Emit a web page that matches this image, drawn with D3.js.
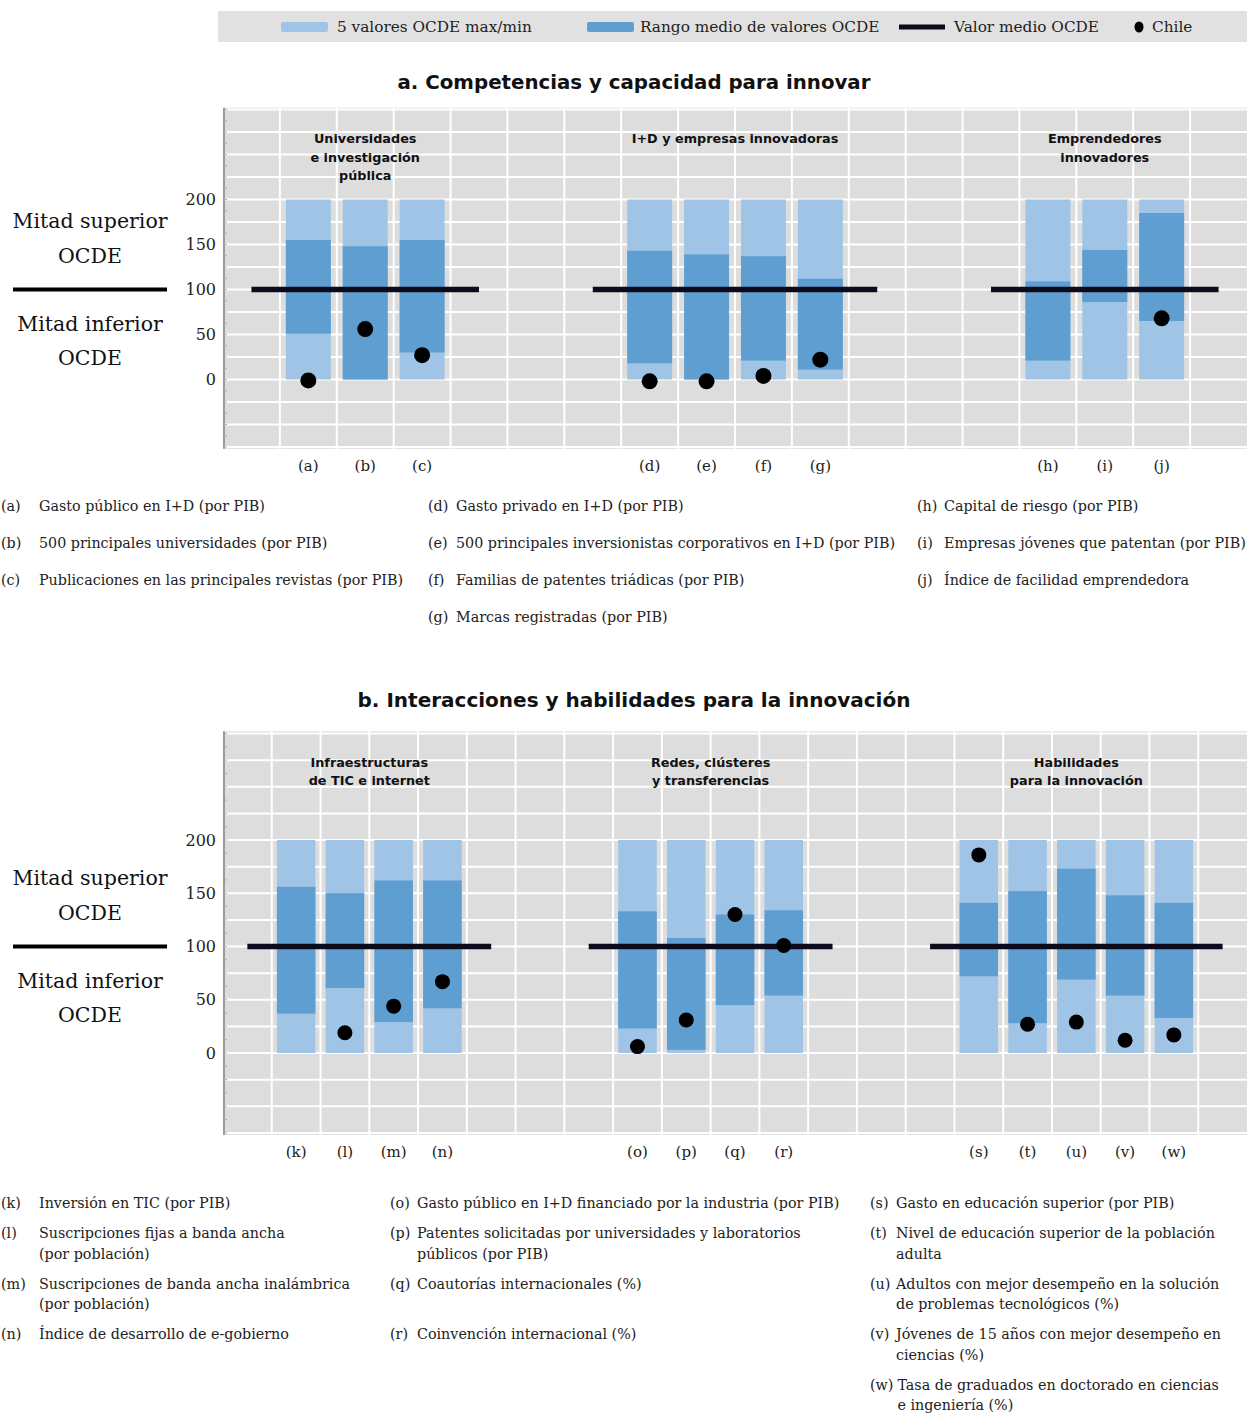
<!DOCTYPE html>
<html>
<head>
<meta charset="utf-8">
<script src="https://cdn.jsdelivr.net/npm/d3@7"></script>
<style>
  body { margin: 0; background: #fff; }
  svg { display: block; }
</style>
</head>
<body>
<svg id="chart" width="1247" height="1414"></svg>
<script>
// ---------- data ----------
const legendLabels = ["5 valores OCDE max/min", "Rango medio de valores OCDE", "Valor medio OCDE", "Chile"];
const yTickValues = [0, 50, 100, 150, 200];
const sideLabelsUpper = ["Mitad superior", "OCDE"];
const sideLabelsLower = ["Mitad inferior", "OCDE"];
const ocdeMin = 0, ocdeMax = 200, ocdeMean = 100;

// Panel a
const titleA = "a. Competencias y capacidad para innovar";
const groupTitlesA = [["Universidades", "e investigación", "pública"], ["I+D y empresas innovadoras"], ["Emprendedores", "innovadores"]];
const groupCatsA = [["a", "b", "c"], ["d", "e", "f", "g"], ["h", "i", "j"]];
const midLowA  = [51, 0, 30, 18, 0, 21, 11, 21, 86, 65];
const midHighA = [155, 148, 155, 143, 139, 137, 112, 109, 144, 185];
const chileA   = [-1, 56, 27, -2, -2, 4, 22, null, null, 68];
const notesA = [
  [["(a)", ["Gasto público en I+D (por PIB)"]],
   ["(b)", ["500 principales universidades (por PIB)"]],
   ["(c)", ["Publicaciones en las principales revistas (por PIB)"]]],
  [["(d)", ["Gasto privado en I+D (por PIB)"]],
   ["(e)", ["500 principales inversionistas corporativos en I+D (por PIB)"]],
   ["(f)", ["Familias de patentes triádicas (por PIB)"]],
   ["(g)", ["Marcas registradas (por PIB)"]]],
  [["(h)", ["Capital de riesgo (por PIB)"]],
   ["(i)", ["Empresas jóvenes que patentan (por PIB)"]],
   ["(j)", ["Índice de facilidad emprendedora"]]]
];

// Panel b
const titleB = "b. Interacciones y habilidades para la innovación";
const groupTitlesB = [["Infraestructuras", "de TIC e internet"], ["Redes, clústeres", "y transferencias"], ["Habilidades", "para la innovación"]];
const groupCatsB = [["k", "l", "m", "n"], ["o", "p", "q", "r"], ["s", "t", "u", "v", "w"]];
const midLowB  = [37, 61, 29, 42, 23, 3, 45, 54, 72, 28, 69, 54, 33];
const midHighB = [156, 150, 162, 162, 133, 108, 130, 134, 141, 152, 173, 148, 141];
const chileB   = [null, 19, 44, 67, 6, 31, 130, 101, 186, 27, 29, 12, 17];
const notesB = [
  [["(k)", ["Inversión en TIC (por PIB)"]],
   ["(l)", ["Suscripciones fijas a banda ancha", "(por población)"]],
   ["(m)", ["Suscripciones de banda ancha inalámbrica", "(por población)"]],
   ["(n)", ["Índice de desarrollo de e-gobierno"]]],
  [["(o)", ["Gasto público en I+D financiado por la industria (por PIB)"]],
   ["(p)", ["Patentes solicitadas por universidades y laboratorios", "públicos (por PIB)"]],
   ["(q)", ["Coautorías internacionales (%)"]],
   ["(r)", ["Coinvención internacional (%)"]]],
  [["(s)", ["Gasto en educación superior (por PIB)"]],
   ["(t)", ["Nivel de educación superior de la población", "adulta"]],
   ["(u)", ["Adultos con mejor desempeño en la solución", "de problemas tecnológicos (%)"]],
   ["(v)", ["Jóvenes de 15 años con mejor desempeño en", "ciencias (%)"]],
   ["(w)", ["Tasa de graduados en doctorado en ciencias", "e ingeniería (%)"]]]
];

// ---------- style ----------
const COL_LIGHT = "#9fc4e5";
const COL_DARK = "#5f9ed1";
const COL_BG = "#dddddd";
const COL_MEAN = "#0b0b1c";
const SERIF = "'DejaVu Serif', serif";
const SANS_BOLD = "'DejaVu Sans', Verdana, sans-serif";
const NOTE_SIZE = 14.3;

const svg = d3.select("#chart");

// ---------- legend ----------
const legend = svg.append("g");
legend.append("rect").attr("x", 218).attr("y", 11).attr("width", 1029).attr("height", 31).attr("fill", "#e1e1e1");
const legY = 27;
legend.append("rect").attr("x", 281).attr("y", legY - 5).attr("width", 47).attr("height", 10).attr("rx", 2).attr("fill", COL_LIGHT);
legend.append("rect").attr("x", 587).attr("y", legY - 5).attr("width", 47).attr("height", 10).attr("rx", 2).attr("fill", COL_DARK);
legend.append("line").attr("x1", 899).attr("x2", 945).attr("y1", legY).attr("y2", legY).attr("stroke", COL_MEAN).attr("stroke-width", 5);
legend.append("ellipse").attr("cx", 1139).attr("cy", legY).attr("rx", 4.5).attr("ry", 5.5).attr("fill", "#000");
[[337, 0], [640, 1], [954, 2], [1152, 3]].forEach(([x, i]) => {
  legend.append("text").attr("x", x).attr("y", legY).attr("dy", "0.35em")
    .attr("font-family", SERIF).attr("font-size", 15.3).attr("fill", "#222").text(legendLabels[i]);
});

// ---------- panel drawing ----------
function drawPanel(cfg) {
  const g = svg.append("g");
  const cats = cfg.groups.flat();
  // slot index of each category: groups separated by three empty slots
  const slot = {};
  let s = 0;
  cfg.groups.forEach((grp, gi) => {
    if (gi > 0) s += 3;
    grp.forEach(c => { slot[c] = s; s += 1; });
  });
  const x = d3.scaleLinear().domain([-1.5, cfg.slotMax]).range([223, 1247]);
  const y = d3.scaleLinear().domain([0, 200]).range([cfg.y0, cfg.y200]);
  const slotW = x(1) - x(0);
  const barW = slotW * 0.79;

  // title
  g.append("text").attr("x", 634).attr("y", cfg.titleY).attr("text-anchor", "middle")
    .attr("font-family", SANS_BOLD).attr("font-weight", "bold").attr("font-size", cfg.titleSize)
    .attr("fill", "#111").text(cfg.title);

  // plot background and grid
  const top = y(302), bottom = y(-77);
  g.append("rect").attr("x", 223).attr("y", top).attr("width", 1024).attr("height", bottom - top).attr("fill", COL_BG);
  g.selectAll("line.hg").data(d3.range(-75, 301, 25)).join("line")
    .attr("x1", 223).attr("x2", 1247).attr("y1", d => y(d)).attr("y2", d => y(d))
    .attr("stroke", "#fff").attr("stroke-width", 2);
  g.selectAll("line.vg").data(d3.range(-0.5, cfg.slotMax, 1)).join("line")
    .attr("x1", d => x(d)).attr("x2", d => x(d)).attr("y1", top).attr("y2", bottom)
    .attr("stroke", "#fff").attr("stroke-width", 2);

  // left axis line with small ticks
  g.append("line").attr("x1", 224).attr("x2", 224).attr("y1", top).attr("y2", bottom)
    .attr("stroke", "#9a9a9a").attr("stroke-width", 2);
  g.selectAll("line.at").data(d3.range(-75, 301, 12.5)).join("line")
    .attr("x1", 224).attr("x2", 227).attr("y1", d => y(d)).attr("y2", d => y(d))
    .attr("stroke", "#aaa").attr("stroke-width", 1);

  // y tick labels
  g.selectAll("text.yt").data(yTickValues).join("text")
    .attr("x", 216).attr("y", d => y(d)).attr("dy", "0.35em").attr("text-anchor", "end")
    .attr("font-family", SERIF).attr("font-size", 16).attr("fill", "#222").text(d => d);

  // side labels
  const ym = y(ocdeMean);
  g.append("line").attr("x1", 13).attr("x2", 167).attr("y1", ym).attr("y2", ym).attr("stroke", "#000").attr("stroke-width", 4);
  [[sideLabelsUpper[0], -69], [sideLabelsUpper[1], -34], [sideLabelsLower[0], 34], [sideLabelsLower[1], 68]].forEach(([t, dy]) => {
    g.append("text").attr("x", 90).attr("y", ym + dy).attr("dy", "0.35em").attr("text-anchor", "middle")
      .attr("font-family", SERIF).attr("font-size", 20.5).attr("fill", "#111").text(t);
  });

  // bars
  const rows = cats.map((c, i) => ({ c, lo: cfg.midLow[i], hi: cfg.midHigh[i], chile: cfg.chile[i] }));
  g.selectAll("rect.full").data(rows).join("rect")
    .attr("x", d => x(slot[d.c]) - barW / 2).attr("width", barW)
    .attr("y", y(ocdeMax)).attr("height", y(ocdeMin) - y(ocdeMax)).attr("fill", COL_LIGHT);
  g.selectAll("rect.mid").data(rows).join("rect")
    .attr("x", d => x(slot[d.c]) - barW / 2).attr("width", barW)
    .attr("y", d => y(d.hi)).attr("height", d => y(d.lo) - y(d.hi)).attr("fill", COL_DARK);

  // mean lines per group
  cfg.groups.forEach(grp => {
    const a = slot[grp[0]] - 1, b = slot[grp[grp.length - 1]] + 1;
    g.append("line").attr("x1", x(a)).attr("x2", x(b)).attr("y1", y(ocdeMean)).attr("y2", y(ocdeMean))
      .attr("stroke", COL_MEAN).attr("stroke-width", 5.5);
  });

  // Chile points
  g.selectAll("circle.chile").data(rows.filter(d => d.chile !== null)).join("circle")
    .attr("cx", d => x(slot[d.c])).attr("cy", d => y(d.chile)).attr("r", cfg.dotR).attr("fill", "#000");

  // group titles
  cfg.groups.forEach((grp, gi) => {
    const cx = (x(slot[grp[0]]) + x(slot[grp[grp.length - 1]])) / 2;
    cfg.groupTitles[gi].forEach((t, li) => {
      g.append("text").attr("x", cx).attr("y", top + 31 + li * 18.5).attr("dy", "0.35em").attr("text-anchor", "middle")
        .attr("font-family", SANS_BOLD).attr("font-weight", "bold").attr("font-size", 12.8).attr("fill", "#111").text(t);
    });
  });

  // category labels
  g.selectAll("text.cat").data(cats).join("text")
    .attr("x", c => x(slot[c])).attr("y", bottom + 17).attr("dy", "0.35em").attr("text-anchor", "middle")
    .attr("font-family", SERIF).attr("font-size", 15).attr("fill", "#222").text(c => "(" + c + ")");

  // footnotes: rows aligned across columns
  const nRows = d3.max(cfg.notes, col => col.length);
  const rowY = [];
  let yy = cfg.noteY;
  for (let r = 0; r < nRows; r++) {
    rowY.push(yy);
    const nl = d3.max(cfg.notes, col => col[r] ? col[r][1].length : 0);
    yy += (nl - 1) * cfg.lineH + cfg.rowStep;
  }
  cfg.notes.forEach((col, ci) => {
    col.forEach(([code, lines], r) => {
      const codeT = g.append("text").attr("x", cfg.noteX[ci]).attr("y", rowY[r]).attr("dy", "0.35em")
        .attr("font-family", SERIF).attr("font-size", NOTE_SIZE).attr("fill", "#222").text(code);
      const tx = Math.max(cfg.noteTextX[ci], cfg.noteX[ci] + codeT.node().getComputedTextLength() + 4);
      lines.forEach((ln, li) => {
        g.append("text").attr("x", tx).attr("y", rowY[r] + li * cfg.lineH).attr("dy", "0.35em")
          .attr("font-family", SERIF).attr("font-size", NOTE_SIZE).attr("fill", "#222").text(ln);
      });
    });
  });
}

drawPanel({
  title: titleA, titleY: 89, titleSize: 19.8, groups: groupCatsA, groupTitles: groupTitlesA,
  midLow: midLowA, midHigh: midHighA, chile: chileA,
  slotMax: 16.5, y0: 379.5, y200: 199.5, dotR: 8,
  notes: notesA, noteX: [1, 428, 917], noteTextX: [39, 456, 944], noteY: 506, lineH: 20, rowStep: 37
});

drawPanel({
  title: titleB, titleY: 707, titleSize: 20, groups: groupCatsB, groupTitles: groupTitlesB,
  midLow: midLowB, midHigh: midHighB, chile: chileB,
  slotMax: 19.5, y0: 1053, y200: 840, dotR: 7.5,
  notes: notesB, noteX: [1, 390, 870], noteTextX: [39, 417, 896], noteY: 1203, lineH: 20.5, rowStep: 30
});
</script>
</body>
</html>
